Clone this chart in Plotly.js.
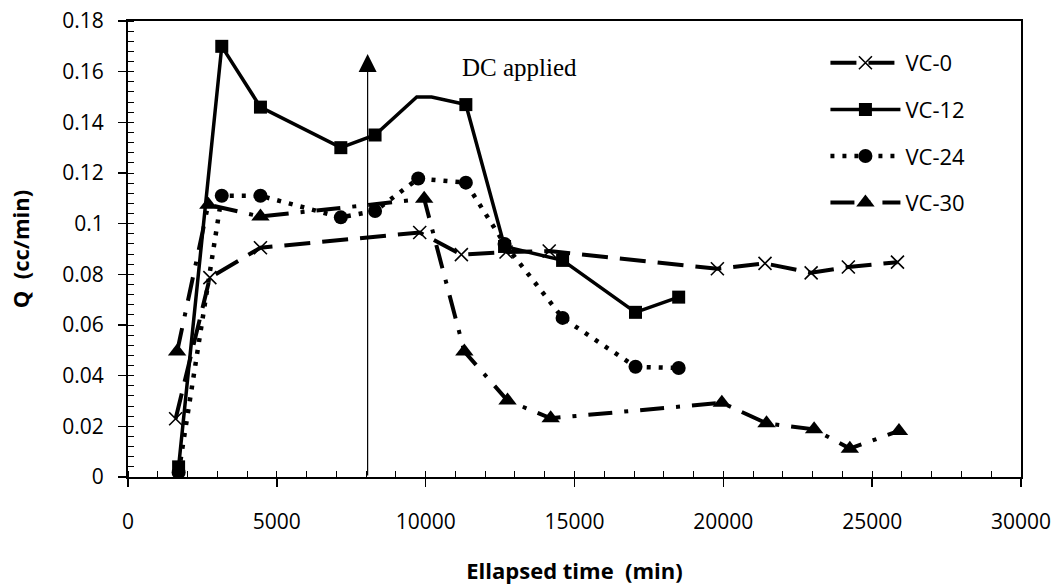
<!DOCTYPE html>
<html>
<head>
<meta charset="utf-8">
<script src="https://cdn.plot.ly/plotly-3.0.1.min.js"></script>
<style>html,body{margin:0;padding:0;background:#fff;}#chart{width:1058px;height:585px;}</style>
</head>
<body>
<div id="chart"></div>
<script>
// Data
const vc0_x = [1600, 2750, 4450, 9800, 11200, 12700, 14150, 19800, 21400, 22950, 24200, 25850];
const vc0_y = [0.023, 0.0787, 0.0905, 0.0965, 0.0878, 0.0888, 0.0892, 0.0822, 0.0843, 0.0806, 0.0829, 0.0848];

const vc12_x = [1700, 3150, 4450, 7150, 8300, 9700, 10200, 11350, 12650, 14600, 17050, 18500];
const vc12_y = [0.004, 0.170, 0.146, 0.130, 0.135, 0.150, 0.150, 0.147, 0.091, 0.0855, 0.065, 0.071];
const vc12_symbols = ['square', 'square', 'square', 'square', 'square', 'line-ew', 'line-ew',
                      'square', 'square', 'square', 'square', 'square'];

const vc24_x = [1700, 3150, 4450, 7150, 8300, 9750, 11350, 12650, 14600, 17050, 18500];
const vc24_y = [0.0018, 0.111, 0.111, 0.1025, 0.105, 0.1178, 0.1162, 0.092, 0.0628, 0.0435, 0.043];

const vc30_x = [1650, 2700, 4450, 9950, 11300, 12750, 14200, 19950, 21450, 23050, 24250, 25900];
const vc30_y = [0.0495, 0.1075, 0.1028, 0.1098, 0.0495, 0.0302, 0.0232, 0.0293, 0.0212, 0.0188, 0.0112, 0.0182];

const seriesNames = ['VC-0', 'VC-12', 'VC-24', 'VC-30'];
const xTicks = [0, 5000, 10000, 15000, 20000, 25000, 30000];
const yTicks = [0, 0.02, 0.04, 0.06, 0.08, 0.1, 0.12, 0.14, 0.16, 0.18];
const dcX = 8050, dcTop = 0.167;
const dcLabel = {text: 'DC applied', x: 13150, y: 0.1615};

const FONT = 'Open Sans, Noto Sans, Liberation Sans, sans-serif';

const traces = [
  {x: vc0_x, y: vc0_y, name: seriesNames[0], legendgroup: 'a', mode: 'lines+markers',
   line: {color: '#000', width: 4, dash: '26px,12px'},
   marker: {symbol: 'x-thin-open', size: 13, color: '#000', opacity: 1, line: {color: '#000', width: 1.6}}},
  {x: vc12_x, y: vc12_y, name: seriesNames[1], legendgroup: 'b', mode: 'lines+markers',
   line: {color: '#000', width: 3.5},
   marker: {symbol: vc12_symbols, size: 13, color: '#000', opacity: 1, line: {width: 0, color: '#000'}}},
  {x: vc24_x, y: vc24_y, name: seriesNames[2], legendgroup: 'c', mode: 'lines+markers',
   line: {color: '#000', width: 4.5, dash: '4px,8px'},
   marker: {symbol: 'circle', size: 14, color: '#000', opacity: 1, line: {width: 0}}},
  {x: vc30_x, y: vc30_y, name: seriesNames[3], legendgroup: 'd', mode: 'lines+markers',
   line: {color: '#000', width: 4, dash: '24px,12px,4px,12px'},
   marker: {symbol: 'triangle-up', size: 16, color: '#000', opacity: 1, line: {width: 0}}}
];

const layout = {
  width: 1058, height: 585,
  margin: {l: 128, r: 37, t: 21, b: 108},
  paper_bgcolor: '#fff', plot_bgcolor: '#fff',
  font: {family: FONT, size: 20, color: '#000'},
  showlegend: true,
  legend: {x: 0.781, y: 0.954, xanchor: 'left', yanchor: 'top', traceorder: 'grouped',
           tracegroupgap: 15, itemwidth: 70, font: {family: FONT, size: 22, color: '#000'},
           bgcolor: 'rgba(0,0,0,0)'},
  xaxis: {range: [0, 30000], tickvals: xTicks, ticktext: xTicks.map(String),
          showgrid: false, zeroline: false, showline: true, mirror: true, linecolor: '#000', linewidth: 2,
          ticks: 'outside', ticklen: 8, tickwidth: 1.5, tickcolor: '#000', ticklabelstandoff: 17,
          minor: {dtick: 1000, ticks: 'inside', ticklen: 6, tickwidth: 1, tickcolor: '#000', showgrid: false},
          tickfont: {family: FONT, size: 21},
          title: {text: '<b>Ellapsed time  (min)</b>', font: {family: FONT, size: 22}, standoff: 29}},
  yaxis: {range: [0, 0.18], tickvals: yTicks, ticktext: yTicks.map(String),
          showgrid: false, zeroline: false, showline: true, mirror: true, linecolor: '#000', linewidth: 2,
          ticks: 'outside', ticklen: 8, tickwidth: 1.5, tickcolor: '#000', ticklabelstandoff: 10,
          minor: {dtick: 0.004, ticks: 'inside', ticklen: 6, tickwidth: 1, tickcolor: '#000', showgrid: false},
          tickfont: {family: FONT, size: 21},
          title: {text: '<b>Q  (cc/min)</b>', font: {family: FONT, size: 22}, standoff: 27}},
  annotations: [
    {x: dcX, y: dcTop, ax: dcX, ay: 0, xref: 'x', yref: 'y', axref: 'x', ayref: 'y',
     text: '', showarrow: true, arrowhead: 2, arrowsize: 3, arrowwidth: 1.2, arrowcolor: '#000', standoff: 0},
    {x: dcLabel.x, y: dcLabel.y, xref: 'x', yref: 'y', text: dcLabel.text, showarrow: false,
     font: {family: 'Liberation Serif, Times New Roman, serif', size: 25, color: '#000'}}
  ]
};

Plotly.newPlot('chart', traces, layout, {displayModeBar: false, staticPlot: true});
</script>
</body>
</html>
